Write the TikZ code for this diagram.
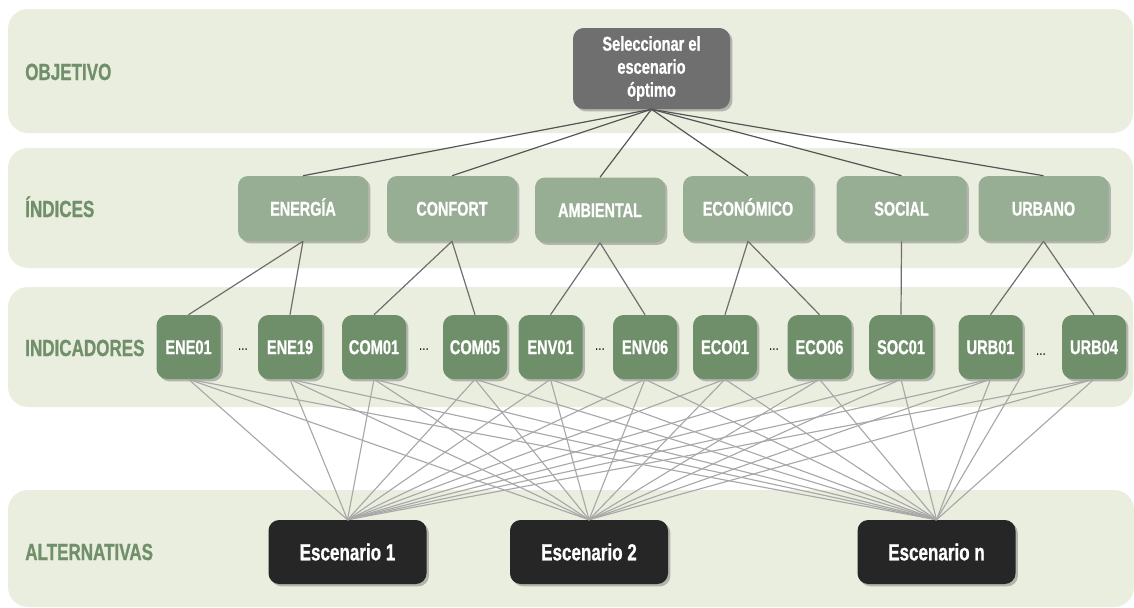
\documentclass[tikz,border=0pt]{standalone}
\usepackage{fontspec}
\setmainfont[FakeStretch=0.73, BoldFeatures={FakeBold=0.8}]{Liberation Sans}
\usepackage{xcolor}
\definecolor{BandGreen}{RGB}{234,238,223}
\definecolor{LabelGreen}{RGB}{112,143,106}
\definecolor{IndexGreen}{RGB}{152,174,148}
\definecolor{IndicGreen}{RGB}{111,143,106}
\definecolor{GoalGray}{RGB}{111,111,111}
\definecolor{AltBlack}{RGB}{38,38,38}
\definecolor{LinkDark}{RGB}{85,85,85}
\definecolor{LinkMid}{RGB}{110,110,110}
\definecolor{LinkLight}{RGB}{168,168,168}
\usepackage{tikz}
\usetikzlibrary{
    shadows
}
\tikzset{
    levellabel/.style={
        anchor=base west,
        inner sep=0pt,
        text=LabelGreen,
        font=\bfseries\fontsize{17.5}{20}\selectfont
    },
    boxshadow/.style={
        drop shadow={
            shadow xshift=1.8pt,
            shadow yshift=-1.8pt,
            opacity=0.35,
            fill=black!70
        }
    },
    goalbox/.style={
        boxshadow,
        fill=GoalGray,
        rounded corners=8pt,
        minimum width=117.75pt,
        minimum height=60.75pt,
        inner sep=0pt,
        align=center,
        text=white,
        font=\bfseries\fontsize{15}{17.25}\selectfont
    },
    indexbox/.style={
        boxshadow,
        fill=IndexGreen,
        rounded corners=7.5pt,
        minimum width=97.5pt,
        minimum height=48.75pt,
        inner sep=0pt,
        text height=10.6pt,
        text depth=0pt,
        text=white,
        font=\bfseries\fontsize{14.8}{17}\selectfont
    },
    indicbox/.style={
        boxshadow,
        fill=IndicGreen,
        rounded corners=8pt,
        minimum width=48pt,
        minimum height=48pt,
        inner sep=0pt,
        text height=10.7pt,
        text depth=0pt,
        text=white,
        font=\bfseries\fontsize{15}{17}\selectfont
    },
    altbox/.style={
        boxshadow,
        fill=AltBlack,
        rounded corners=8pt,
        minimum width=118.5pt,
        minimum height=48pt,
        inner sep=0pt,
        text height=12.5pt,
        text depth=0pt,
        text=white,
        font=\bfseries\fontsize{17.5}{20}\selectfont
    },
    gapdots/.style={
        anchor=base,
        inner sep=0pt,
        font=\fontsize{12}{14}\selectfont
    },
    toplink/.style={
        draw=LinkDark,
        line width=0.9pt
    },
    midlink/.style={
        draw=LinkMid,
        line width=0.9pt
    },
    altlink/.style={
        draw=LinkLight,
        line width=0.85pt
    }
}

\begin{document}
\begin{tikzpicture}[x=0.75pt,y=-0.75pt]
%
    \useasboundingbox (0,0) rectangle (1134,607);
%
    % Level bands
%
    \fill[BandGreen, rounded corners=15pt] (8,9) rectangle (1133,133);
    \fill[BandGreen, rounded corners=15pt] (8,148) rectangle (1133,268);
    \fill[BandGreen, rounded corners=15pt] (8,287) rectangle (1133,407);
    \fill[BandGreen, rounded corners=15pt] (8,490) rectangle (1134,607);
%
    % Level labels
%
    \node[levellabel] (lab-obj) at (25,80) {OBJETIVO};
    \node[levellabel] (lab-idx) at (25,217) {ÍNDICES};
    \node[levellabel] (lab-ind) at (25,356) {INDICADORES};
    \node[levellabel] (lab-alt) at (25,560) {ALTERNATIVAS};
%
    % Goal
%
    \node[goalbox] (goal) at (651.5,68.5) {
        Seleccionar el\\
        escenario\\
        óptimo
    };
%
    % Indices
%
    \node[indexbox] (energia) at (303,208.5) {ENERGÍA};
    \node[indexbox] (confort) at (452,208.5) {CONFORT};
    \node[indexbox] (ambiental) at (600,210) {AMBIENTAL};
    \node[indexbox] (economico) at (748,208.5) {ECONÓMICO};
    \node[indexbox] (social) at (901.5,208.5) {SOCIAL};
    \node[indexbox] (urbano) at (1043.5,208.5) {URBANO};
%
    % Indicators
%
    \node[indicbox] (ene01) at (188.5,347) {ENE01};
    \node[indicbox] (ene19) at (290,347) {ENE19};
    \node[indicbox] (com01) at (374,347) {COM01};
    \node[indicbox] (com05) at (475,347) {COM05};
    \node[indicbox] (env01) at (550.5,347) {ENV01};
    \node[indicbox] (env06) at (645,347) {ENV06};
    \node[indicbox] (eco01) at (725,347) {ECO01};
    \node[indicbox] (eco06) at (819.5,347) {ECO06};
    \node[indicbox] (soc01) at (901,347) {SOC01};
    \node[indicbox] (urb01) at (990.5,347) {URB01};
    \node[indicbox] (urb04) at (1094,347) {URB04};
%
    \node[gapdots] (dots-ene) at (243,350) {...};
    \node[gapdots] (dots-com) at (424,350) {...};
    \node[gapdots] (dots-env) at (600,350) {...};
    \node[gapdots] (dots-eco) at (774,350) {...};
    \node[gapdots] (dots-urb) at (1041,355) {...};
%
    % Alternatives
%
    \node[altbox] (alt1) at (347.5,552) {Escenario 1};
    \node[altbox] (alt2) at (589,552) {Escenario 2};
    \node[altbox] (altn) at (936.5,552) {Escenario n};
%
    % Goal to indices
%
    \draw[toplink] (goal.south) -- (energia.north);
    \draw[toplink] (goal.south) -- (confort.north);
    \draw[toplink] (goal.south) -- (ambiental.north);
    \draw[toplink] (goal.south) -- (economico.north);
    \draw[toplink] (goal.south) -- (social.north);
    \draw[toplink] (goal.south) -- (urbano.north);
%
    % Indices to indicators
%
    \draw[midlink] (energia.south) -- (ene01.north);
    \draw[midlink] (energia.south) -- (ene19.north);
    \draw[midlink] (confort.south) -- (com01.north);
    \draw[midlink] (confort.south) -- (com05.north);
    \draw[midlink] (ambiental.south) -- (env01.north);
    \draw[midlink] (ambiental.south) -- (env06.north);
    \draw[midlink] (economico.south) -- (eco01.north);
    \draw[midlink] (economico.south) -- (eco06.north);
    \draw[midlink] (social.south) -- (soc01.north);
    \draw[midlink] (urbano.south) -- (urb01.north);
    \draw[midlink] (urbano.south) -- (urb04.north);
%
    % Indicators to alternatives
%
    \foreach \icname in {ene01,ene19,com01,com05,env01,env06,eco01,eco06,soc01,urb01,urb04}{
        \foreach \altname in {alt1,alt2,altn}{
            \draw[altlink] (\icname.south) -- (\altname.north);
        }
    }
    \draw[altlink] (urb01.-48) -- (altn.north);
%
\end{tikzpicture}
\end{document}
